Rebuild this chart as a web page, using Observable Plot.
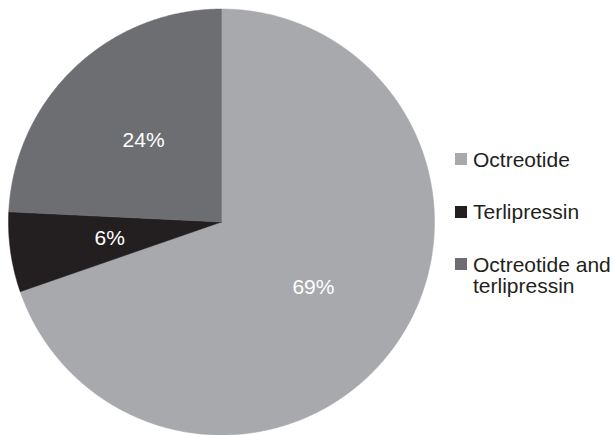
<!DOCTYPE html>
<html><head><meta charset="utf-8">
<script src="https://cdn.jsdelivr.net/npm/d3@7"></script>
<script src="https://cdn.jsdelivr.net/npm/@observablehq/plot@0.6"></script>
<style>
body{margin:0;background:#fff;font-family:"Liberation Sans",Arial,Helvetica,sans-serif;}
#wrap{position:relative;width:613px;height:435px;overflow:hidden;}
#legend{position:absolute;left:455px;top:148.5px;}
.item{display:flex;align-items:flex-start;margin-bottom:31.5px;font-size:21px;line-height:21px;color:#231f20;}
.sw{width:12px;height:12px;margin-top:4.5px;margin-right:6px;flex:none;}
.lab{width:142px;}
</style></head><body><div id="wrap"></div>
<script>
const categories = ["Octreotide", "Terlipressin", "Octreotide and terlipressin"];
const values = [69, 6, 24];
const labels = ["69%", "6%", "24%"];
const colors = ["#a7a9ac", "#231f20", "#6d6e71"];

const cx = 221, cy = 221.5, R = 213;

const arcs = d3.pie().sort(null).value(d => d)(values);
const poly = [];
const labelData = [];
arcs.forEach((a, i) => {
  const n = Math.max(2, Math.ceil((a.endAngle - a.startAngle) / 0.005));
  poly.push({cat: categories[i], x: 0, y: 0});
  for (let k = 0; k <= n; k++) {
    const t = a.startAngle + (a.endAngle - a.startAngle) * k / n;
    poly.push({cat: categories[i], x: Math.sin(t), y: Math.cos(t)});
  }
  poly.push({cat: categories[i], x: 0, y: 0});
  const m = (a.startAngle + a.endAngle) / 2;
  labelData.push({label: labels[i], x: 0.53 * Math.sin(m), y: 0.53 * Math.cos(m)});
});

const plot = Plot.plot({
  width: 613, height: 435, margin: 0,
  x: {domain: [-1, 1], range: [cx - R, cx + R], axis: null},
  y: {domain: [-1, 1], range: [cy + R, cy - R], axis: null},
  color: {domain: categories, range: colors},
  style: {fontFamily: '"Liberation Sans", Arial, Helvetica, sans-serif', background: "white"},
  marks: [
    Plot.line(poly, {x: "x", y: "y", z: "cat", fill: "cat", stroke: "cat", strokeWidth: 0.5, curve: "linear"}),
    Plot.text(labelData, {x: "x", y: "y", text: "label", fill: "white", fontSize: 21})
  ]
});

const wrap = document.getElementById("wrap");
wrap.appendChild(plot);
const color = plot.scale("color");
const legend = document.createElement("div");
legend.id = "legend";
categories.forEach(c => {
  const item = document.createElement("div");
  item.className = "item";
  const sw = document.createElement("div");
  sw.className = "sw";
  sw.style.background = color.apply(c);
  const lab = document.createElement("div");
  lab.className = "lab";
  lab.textContent = c;
  item.appendChild(sw);
  item.appendChild(lab);
  legend.appendChild(item);
});
wrap.appendChild(legend);
</script>
</body></html>
